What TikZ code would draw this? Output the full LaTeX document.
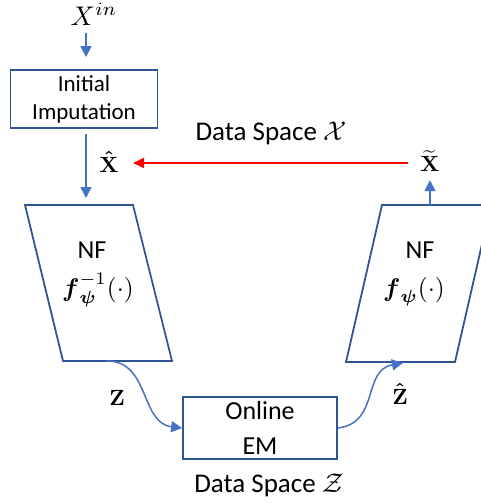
\RequirePackage{fix-cm}
\documentclass[tikz,border=0pt]{standalone}
\usepackage{amsmath}
\usepackage[no-math]{fontspec}
\setmainfont{Carlito}
\usetikzlibrary{arrows.meta}
\definecolor{arrowblue}{HTML}{4472C4}
\definecolor{boxblue}{HTML}{2F5597}
\definecolor{arrowred}{HTML}{FF0000}
\begin{document}
\begin{tikzpicture}[x=1pt,y=-1pt,
  blockbox/.style={draw=boxblue,line width=1.8pt,inner sep=0pt,align=center},
  shapeline/.style={draw=boxblue,line width=1.8pt,line join=miter},
  bluearrow/.style={draw=arrowblue,line width=1.5pt,-{Triangle[length=11pt,width=11pt]}},
  redarrow/.style={draw=arrowred,line width=1.5pt,-{Triangle[length=11pt,width=10pt]}},
  lbl/.style={inner sep=0pt,align=center},
  txt/.style={inner sep=0pt,align=center,font=\fontsize{23}{28}\selectfont},
  bigtxt/.style={inner sep=0pt,align=center,font=\fontsize{26}{35}\selectfont},
  mathlbl/.style={inner sep=0pt,font=\normalsize,scale=2.2,transform shape},
  fnlbl/.style={inner sep=0pt,font=\normalsize,scale=2.55,transform shape},
]
\useasboundingbox (0,0) rectangle (480,504);

% top input
\node[lbl,font=\normalsize,scale=2.7,transform shape] (xin) at (94,14) {$X^{in}$};
\node[blockbox,txt,minimum width=147pt,minimum height=58pt] (init) at (84,99) {Initial\\Imputation};
\coordinate (lptop) at (86,205);
\draw[bluearrow,shorten <=7pt,shorten >=12pt] (xin.south -| lptop) -- (init.north -| lptop);

% left parallelogram
\draw[shapeline] (25,205) -- (133,205) -- (172,361) -- (63,361) -- cycle;
\coordinate (lpbot) at (107,361);
\node[bigtxt] (nfl) at (92,250) {NF};
\node[fnlbl] (finv) at (98,290) {$\boldsymbol{f}_{\boldsymbol{\psi}}^{-1}(\cdot)$};

% right parallelogram
\draw[shapeline] (382,205) -- (491,205) -- (455,362) -- (346,362) -- cycle;
\coordinate (rptop) at (430,205);
\coordinate (rpbot) at (403,363);
\node[bigtxt] (nfr) at (420,250) {NF};
\node[fnlbl] (ffwd) at (414,292) {$\boldsymbol{f}_{\boldsymbol{\psi}}(\cdot)$};

% arrow from init to left parallelogram
\draw[bluearrow,shorten <=5pt,shorten >=7pt] (init.south -| lptop) -- (lptop);

% X hat and X tilde
\node[mathlbl] (xhat) at (109,162) {$\boldsymbol{\hat{\mathbf{X}}}$};
\node[mathlbl] (xtil) at (430,161) {$\boldsymbol{\widetilde{\mathbf{X}}}$};
\draw[bluearrow,shorten >=8pt] (rptop) -- (xtil.south);
\draw[redarrow,shorten <=12pt,shorten >=14pt] (xtil.west |- 0,163) -- (xhat.east |- 0,163);
\node[lbl,font=\fontsize{27}{30}\selectfont] (dsx) at (271,133) {Data Space $\mathcal{X}$};

% online EM
\node[blockbox,bigtxt,minimum width=154pt,minimum height=62pt] (em) at (260,428) {Online\\EM};
\node[lbl,font=\fontsize{27}{30}\selectfont] (dsz) at (269,485) {Data Space $\mathcal{Z}$};

% curves
\draw[bluearrow] (lpbot) .. controls (150,361) and (140,423) .. (em.west);
\draw[bluearrow] (em.east) .. controls (380,423) and (362,370) .. (rpbot);
\node[mathlbl] (zlbl) at (117,398) {$\mathbf{Z}$};
\node[mathlbl] (zhat) at (400,394) {$\boldsymbol{\hat{\mathbf{Z}}}$};
\end{tikzpicture}
\end{document}
